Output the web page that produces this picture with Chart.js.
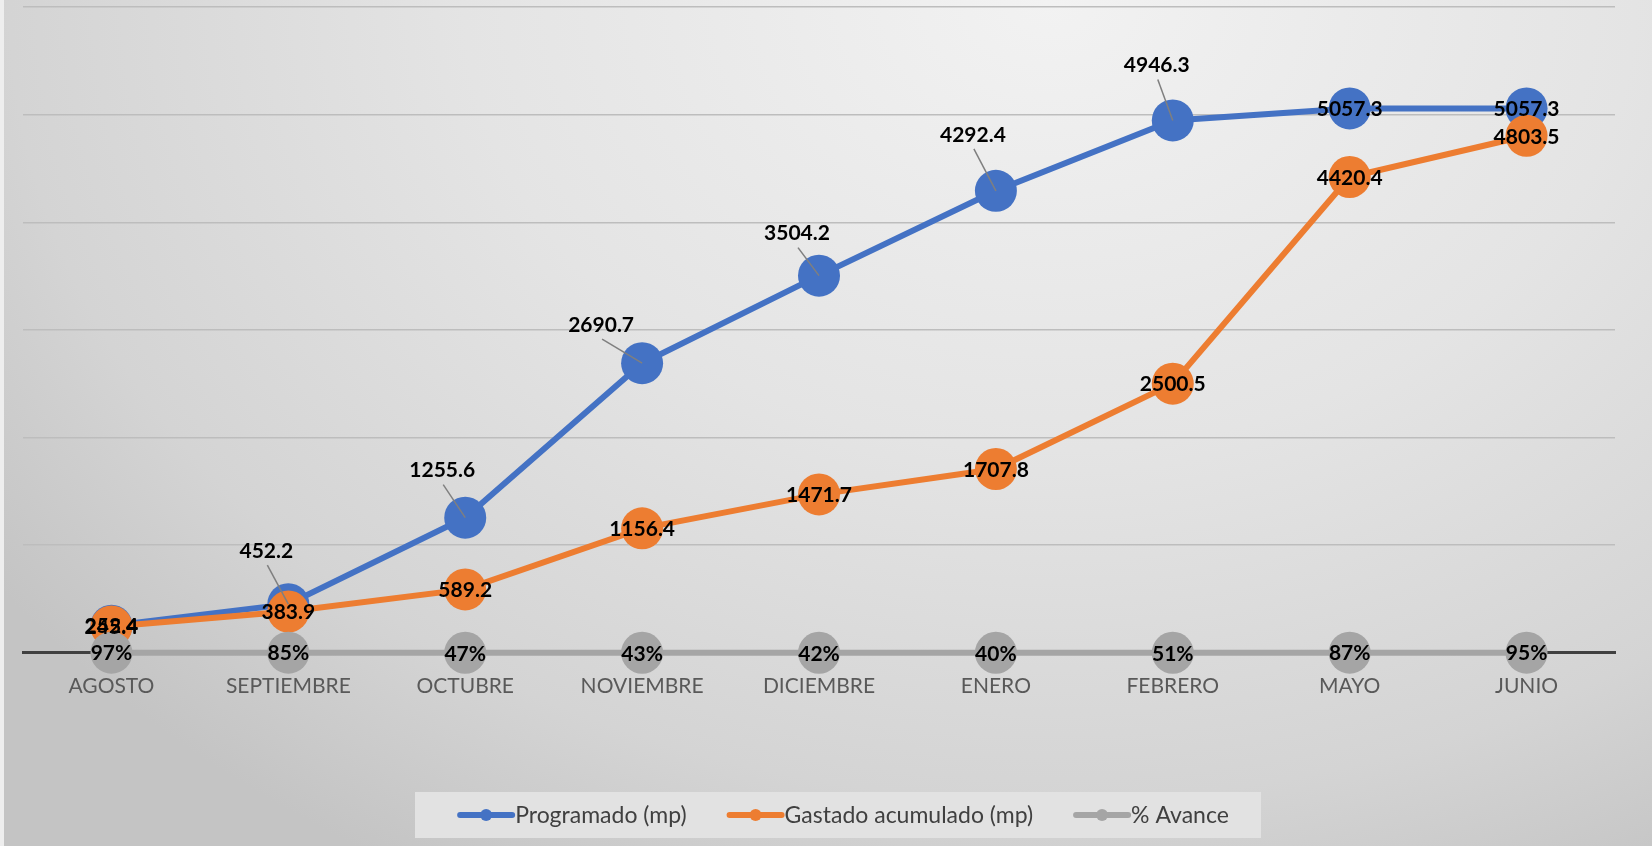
<!DOCTYPE html>
<html><head><meta charset="utf-8">
<script src="https://cdn.jsdelivr.net/npm/chart.js@4.4.1/dist/chart.umd.min.js"></script>
<style>html,body{margin:0;padding:0;background:#eeeeee;overflow:hidden}#wrap{width:1652px;height:846px;position:relative}</style>
</head><body><div id="wrap"><canvas id="c" width="1652" height="846"></canvas></div>
<script>
const categories = ['AGOSTO','SEPTIEMBRE','OCTUBRE','NOVIEMBRE','DICIEMBRE','ENERO','FEBRERO','MAYO','JUNIO'];
const programado = [252.4, 452.2, 1255.6, 2690.7, 3504.2, 4292.4, 4946.3, 5057.3, 5057.3];
const gastado = [245.4, 383.9, 589.2, 1156.4, 1471.7, 1707.8, 2500.5, 4420.4, 4803.5];
const avance = [0.97, 0.85, 0.47, 0.43, 0.42, 0.40, 0.51, 0.87, 0.95];
const seriesNames = ['Programado (mp)', 'Gastado acumulado (mp)', '% Avance'];
const yTickValues = [0, 1000, 2000, 3000, 4000, 5000, 6000];

// label placement (style): offsets in px from the point for the Programado labels
const progLabelOffsets = [[0,0],[-22,-54],[-23,-48],[-41,-39],[-22,-43],[-23,-57],[-16,-56],[0,0],[0,0]];

const COLORS = ['#4472c4', '#ed7d31', '#a5a5a5'];
const LABEL_FONT = 'bold 21px Lato';

const bgPlugin = {
  id: 'bg',
  beforeDraw(chart) {
    const ctx = chart.ctx;
    ctx.save();
    ctx.fillStyle = '#eeeeee';
    ctx.fillRect(0, 0, 1652, 846);
    ctx.translate(1050, 0);
    ctx.scale(1.3, 1.0);
    const g = ctx.createRadialGradient(0, 0, 0, 0, 0, 1000);
    g.addColorStop(0, '#f2f2f2');
    g.addColorStop(0.45, '#e4e4e4');
    g.addColorStop(0.8, '#d4d4d4');
    g.addColorStop(1, '#c4c4c4');
    ctx.fillStyle = g;
    ctx.fillRect((4 - 1050) / 1.3, 0, 1652 / 1.3 + 10, 846);
    ctx.restore();
  }
};

const labelPlugin = {
  id: 'valueLabels',
  afterDatasetsDraw(chart) {
    const ctx = chart.ctx;
    ctx.save();
    ctx.font = LABEL_FONT;
    ctx.textAlign = 'center';
    ctx.textBaseline = 'middle';
    const m0 = chart.getDatasetMeta(0);
    ctx.strokeStyle = '#7f7f7f';
    ctx.lineWidth = 1.5;
    m0.data.forEach((pt, i) => {
      const [dx, dy] = progLabelOffsets[i];
      if (dx !== 0 || dy !== 0) {
        ctx.beginPath();
        ctx.moveTo(pt.x + dx + 1, pt.y + dy + 15);
        ctx.lineTo(pt.x, pt.y);
        ctx.stroke();
      }
    });
    ctx.fillStyle = '#000000';
    m0.data.forEach((pt, i) => {
      const [dx, dy] = progLabelOffsets[i];
      ctx.fillText(programado[i].toFixed(1), pt.x + dx, pt.y + dy + 1);
    });
    const m1 = chart.getDatasetMeta(1);
    m1.data.forEach((pt, i) => {
      ctx.fillText(gastado[i].toFixed(1), pt.x, pt.y + 1);
    });
    const m2 = chart.getDatasetMeta(2);
    m2.data.forEach((pt, i) => {
      ctx.fillText(Math.round(avance[i] * 100) + '%', pt.x, pt.y + 1);
    });
    ctx.restore();
  }
};

const legendPlugin = {
  id: 'customLegend',
  afterDraw(chart) {
    const ctx = chart.ctx;
    ctx.save();
    ctx.fillStyle = '#e2e2e2';
    ctx.fillRect(415, 792, 846, 46);
    ctx.font = '23px Lato';
    ctx.textBaseline = 'middle';
    ctx.textAlign = 'left';
    const lineW = 58, gap = 40;
    const widths = seriesNames.map(n => ctx.measureText(n).width);
    const total = widths.reduce((a, b) => a + b, 0) + lineW * 3 + gap * 2;
    let x = 843 - total / 2;
    const y = 815;
    seriesNames.forEach((n, i) => {
      ctx.strokeStyle = COLORS[i];
      ctx.lineWidth = 6;
      ctx.lineCap = 'round';
      ctx.beginPath();
      ctx.moveTo(x + 3, y);
      ctx.lineTo(x + lineW - 3, y);
      ctx.stroke();
      ctx.fillStyle = COLORS[i];
      ctx.beginPath();
      ctx.arc(x + lineW / 2, y, 6, 0, Math.PI * 2);
      ctx.fill();
      ctx.fillStyle = '#404040';
      ctx.fillText(n, x + lineW, y + 1);
      x += lineW + widths[i] + gap;
    });
    ctx.restore();
  }
};

function ds(label, data, color, order) {
  return {
    label, data, order,
    borderColor: color, backgroundColor: color,
    borderWidth: 6, pointRadius: 21, pointHoverRadius: 21,
    pointBorderWidth: 0, pointBackgroundColor: color,
    tension: 0, fill: false, clip: false
  };
}

new Chart(document.getElementById('c'), {
  type: 'line',
  data: {
    labels: categories,
    datasets: [
      ds(seriesNames[0], programado, COLORS[0], 3),
      ds(seriesNames[1], gastado, COLORS[1], 2),
      ds(seriesNames[2], avance, COLORS[2], 1)
    ]
  },
  options: {
    responsive: false,
    animation: false,
    events: [],
    layout: { autoPadding: false, padding: { left: 23, right: 37, top: 7, bottom: 126 } },
    scales: {
      x: {
        offset: true,
        grid: { display: false, drawTicks: false },
        border: { display: true, color: '#404040', width: 3 },
        ticks: { color: '#595959', font: { family: 'Lato', size: 21 }, padding: 21, maxRotation: 0, autoSkip: false }
      },
      y: {
        min: 0, max: 6000,
        afterBuildTicks(scale) { scale.ticks = yTickValues.map(v => ({ value: v })); },
        ticks: { display: false },
        grid: { color: ctx => ctx.tick && ctx.tick.value === 0 ? 'rgba(0,0,0,0)' : '#bdbdbd', lineWidth: 1.5, drawTicks: false },
        border: { display: false }
      }
    },
    plugins: { legend: { display: false }, tooltip: { enabled: false } }
  },
  plugins: [bgPlugin, labelPlugin, legendPlugin]
});
</script>
</body></html>
